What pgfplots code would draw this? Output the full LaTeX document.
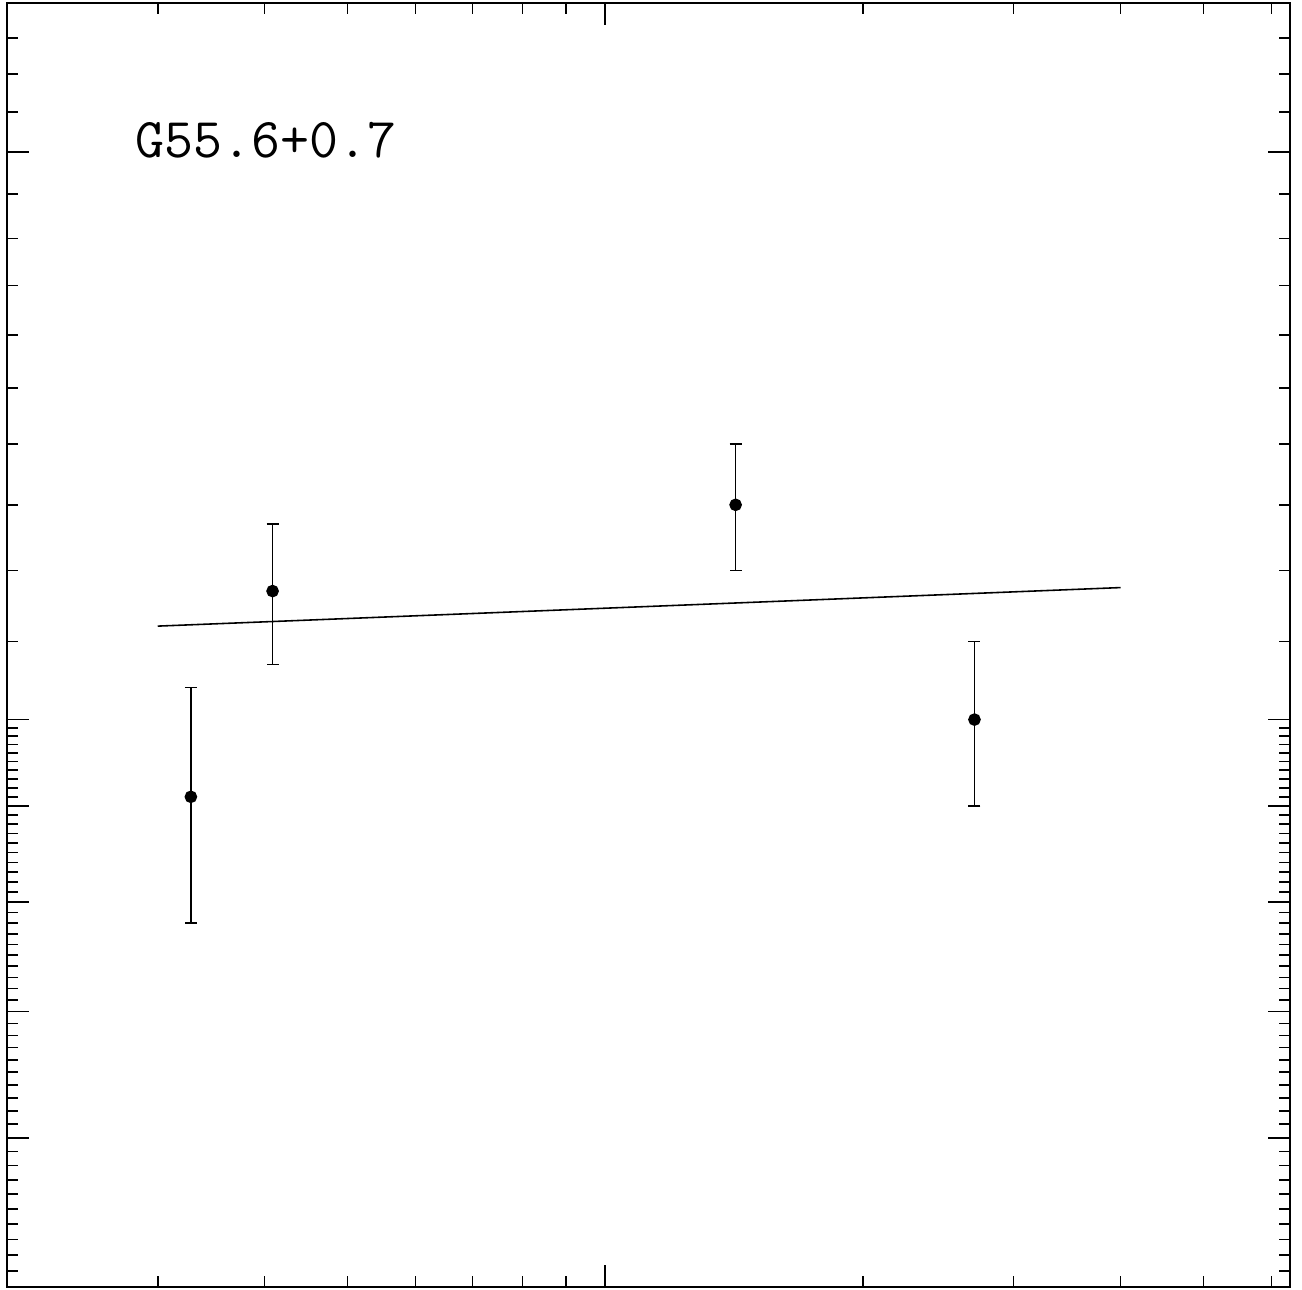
\documentclass[border=0pt]{standalone}
\usepackage{pgfplots}
\pgfplotsset{compat=1.18}
\begin{document}
\begin{tikzpicture}
\useasboundingbox (-0.07cm,-0.02cm) rectangle (12.95cm,12.87cm);
\begin{axis}[
  at={(0,0)}, anchor=south west,
  scale only axis, width=12.83cm, height=12.84cm,
  xmode=log, ymode=log,
  xmin=0.2, xmax=6.31, ymin=5, ymax=24,
  axis line style={line width=0.5pt},
  tick align=inside,
  major tick length=0.225cm, minor tick length=0.115cm,
  every tick/.style={line width=0.45pt, black},
  xtick={1},
  minor xtick={0.3,0.4,0.5,0.6,0.7,0.8,0.9,2,3,4,5,6},
  ytick={6,7,8,9,10,20},
  minor ytick={5.1,5.2,5.3,5.4,5.5,5.6,5.7,5.8,5.9,
    6.1,6.2,6.3,6.4,6.5,6.6,6.7,6.8,6.9,
    7.1,7.2,7.3,7.4,7.5,7.6,7.7,7.8,7.9,
    8.1,8.2,8.3,8.4,8.5,8.6,8.7,8.8,8.9,
    9.1,9.2,9.3,9.4,9.5,9.6,9.7,9.8,9.9,
    11,12,13,14,15,16,17,18,19,21,22,23},
  xticklabels={}, yticklabels={},
  clip=false,
]
\addplot[only marks, mark=*, mark size=1.6pt, black,
  error bars/.cd, y dir=both, y explicit,
  error bar style={line width=0.4pt, black},
  error mark=-,
  error mark options={rotate=90, mark size=0.06cm, line width=0.4pt, black}]
  coordinates {
  (0.328,9.1) +- (0,1.3)
  (0.4086,11.7) +- (0,1.0)
  (1.42,13.0) +- (0,1.0)
  (2.70,10.0) +- (0,1.0)
};
\addplot[black, line width=0.45pt] coordinates {(0.3,11.21) (4.0,11.75)};
\node[anchor=base west, inner sep=0pt, font=\ttfamily\fontsize{16}{19}\selectfont]
  at (rel axis cs:0.0998,0.880) {G55.6+0.7};
\end{axis}
\end{tikzpicture}
\end{document}
